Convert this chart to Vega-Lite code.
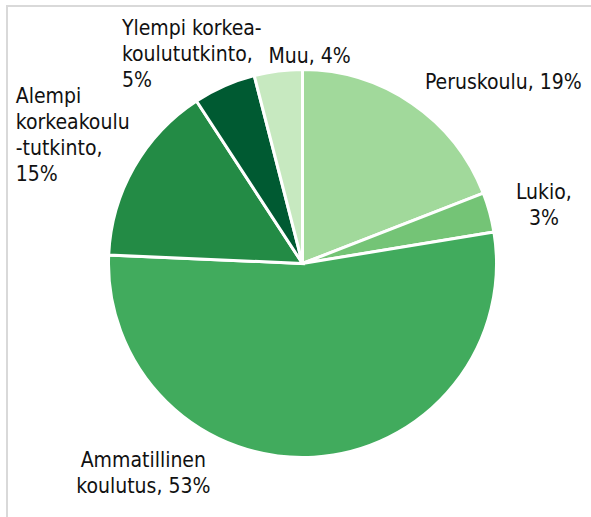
{
  "$schema": "https://vega.github.io/schema/vega-lite/v6.json",
  "width": 591,
  "height": 515,
  "autosize": {"type": "none"},
  "padding": {"left": 7, "top": 6, "right": 0, "bottom": 0},
  "background": "white",
  "view": {"stroke": "#d9d9d9", "strokeWidth": 2},
  "config": {"view": {"stroke": "#d9d9d9", "strokeWidth": 2}},
  "data": {"values": [
    {"key": "Peruskoulu", "value": 19.1, "i": 1, "lines": ["Peruskoulu, 19%"]},
    {"key": "Lukio", "value": 3.3, "i": 2, "lines": ["Lukio,", "3%"]},
    {"key": "Ammatillinen koulutus", "value": 53.3, "i": 3, "lines": ["Ammatillinen", "koulutus, 53%"]},
    {"key": "Alempi korkeakoulututkinto", "value": 15.1, "i": 4, "lines": ["Alempi", "korkeakoulu", "-tutkinto,", "15%"]},
    {"key": "Ylempi korkeakoulututkinto", "value": 5.2, "i": 5, "lines": ["Ylempi korkea-", "koulututkinto,", "5%"]},
    {"key": "Muu", "value": 4.0, "i": 6, "lines": ["Muu, 4%"]}
  ]},
  "encoding": {
    "theta": {"field": "value", "type": "quantitative", "stack": true},
    "order": {"field": "i", "type": "quantitative"}
  },
  "layer": [
    {
      "mark": {"type": "arc", "outerRadius": 194, "stroke": "white", "strokeWidth": 3},
      "encoding": {
        "color": {"field": "key", "type": "nominal",
          "scale": {"domain": ["Peruskoulu", "Lukio", "Ammatillinen koulutus", "Alempi korkeakoulututkinto", "Ylempi korkeakoulututkinto", "Muu"],
                    "range": ["#a1d99b", "#74c476", "#41ab5d", "#238b45", "#005a32", "#c7e9c0"]},
          "legend": null}
      }
    },
    {
      "mark": {"type": "text", "radius": 215, "dx": 1, "dy": 3, "align": "left", "baseline": "alphabetic", "font": "DejaVu Sans Condensed, DejaVu Sans", "fontSize": 21, "lineHeight": 26, "color": "#111111"},
      "encoding": {"text": {"condition": {"test": "datum.key === 'Peruskoulu'", "field": "lines", "type": "nominal"}, "value": ""}}
    },
    {
      "mark": {"type": "text", "radius": 215, "dx": 34, "dy": -8, "align": "center", "baseline": "alphabetic", "font": "DejaVu Sans Condensed, DejaVu Sans", "fontSize": 21, "lineHeight": 26, "color": "#111111"},
      "encoding": {"text": {"condition": {"test": "datum.key === 'Lukio'", "field": "lines", "type": "nominal"}, "value": ""}}
    },
    {
      "mark": {"type": "text", "radius": 215, "dx": -172, "dy": -11, "align": "center", "baseline": "alphabetic", "font": "DejaVu Sans Condensed, DejaVu Sans", "fontSize": 21, "lineHeight": 26, "color": "#111111"},
      "encoding": {"text": {"condition": {"test": "datum.key === 'Ammatillinen koulutus'", "field": "lines", "type": "nominal"}, "value": ""}}
    },
    {
      "mark": {"type": "text", "radius": 215, "dx": -100, "dy": -54, "align": "left", "baseline": "alphabetic", "font": "DejaVu Sans Condensed, DejaVu Sans", "fontSize": 21, "lineHeight": 26, "color": "#111111"},
      "encoding": {"text": {"condition": {"test": "datum.key === 'Alempi korkeakoulututkinto'", "field": "lines", "type": "nominal"}, "value": ""}}
    },
    {
      "mark": {"type": "text", "radius": 215, "dx": -94, "dy": -32, "align": "left", "baseline": "alphabetic", "font": "DejaVu Sans Condensed, DejaVu Sans", "fontSize": 21, "lineHeight": 26, "color": "#111111"},
      "encoding": {"text": {"condition": {"test": "datum.key === 'Ylempi korkeakoulututkinto'", "field": "lines", "type": "nominal"}, "value": ""}}
    },
    {
      "mark": {"type": "text", "radius": 215, "dx": -7, "dy": 13, "align": "left", "baseline": "alphabetic", "font": "DejaVu Sans Condensed, DejaVu Sans", "fontSize": 21, "lineHeight": 26, "color": "#111111"},
      "encoding": {"text": {"condition": {"test": "datum.key === 'Muu'", "field": "lines", "type": "nominal"}, "value": ""}}
    }
  ]
}
